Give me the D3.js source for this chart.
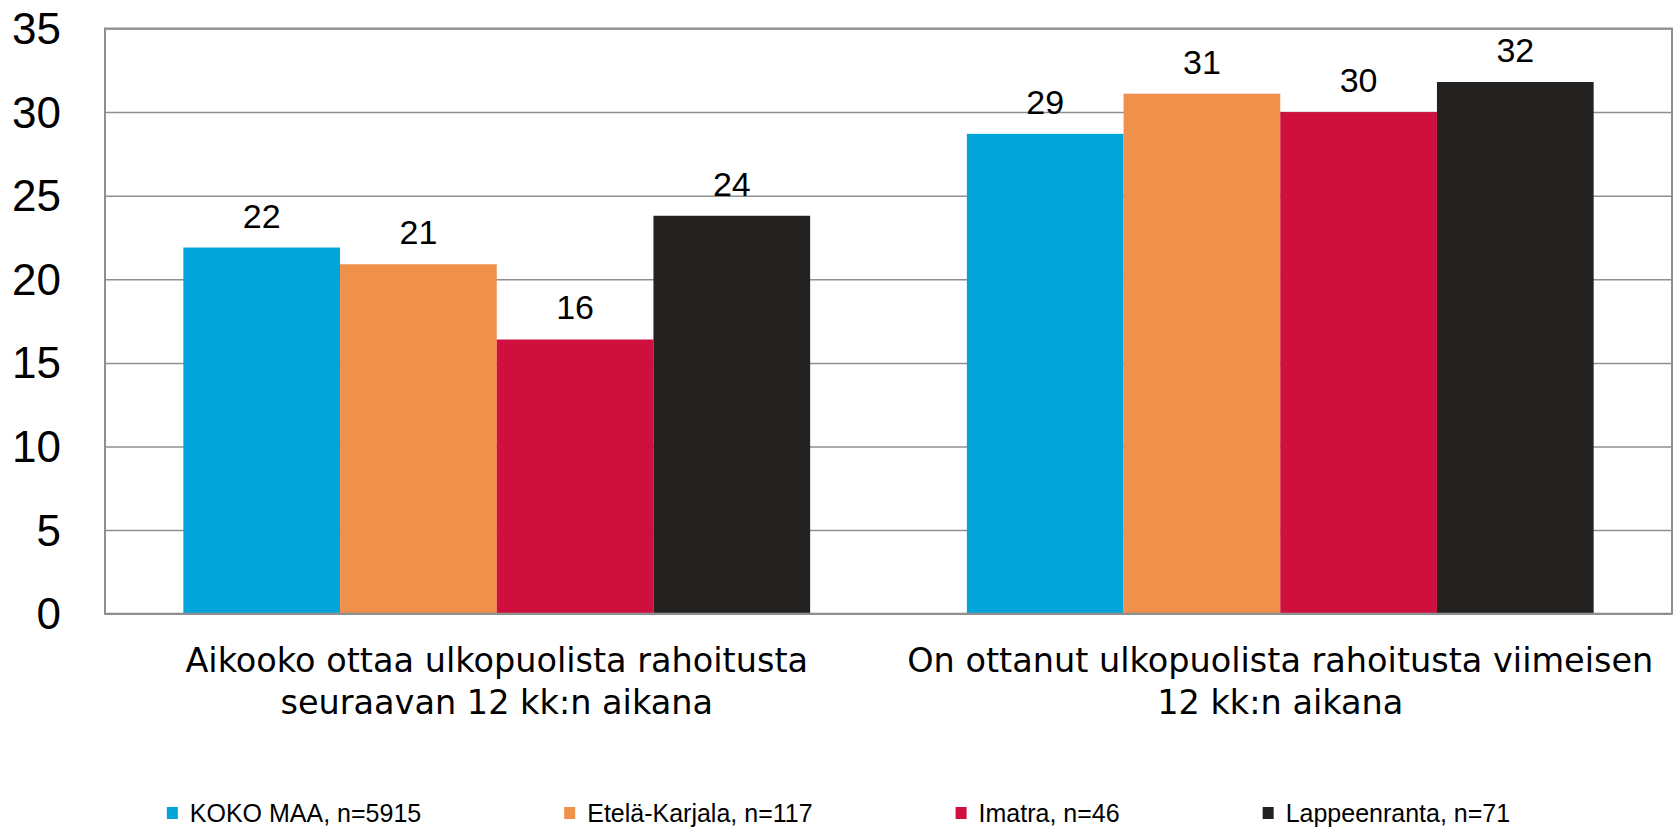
<!DOCTYPE html>
<html>
<head>
<meta charset="utf-8">
<script src="https://cdn.jsdelivr.net/npm/d3@7"></script>
<style>
  body { margin: 0; background: #fff; }
  svg { display: block; }
</style>
</head>
<body>
<div id="chart"></div>
<script>
// categories (x groups) and their wrapped label lines
const categories = ['Aikooko', 'On ottanut'];
const categoryLines = [
    ['Aikooko ottaa ulkopuolista rahoitusta', 'seuraavan 12 kk:n aikana'],
    ['On ottanut ulkopuolista rahoitusta viimeisen', '12 kk:n aikana']
];

// series
const seriesNames = ['KOKO MAA, n=5915', 'Etelä-Karjala, n=117', 'Imatra, n=46', 'Lappeenranta, n=71'];
const kokoMaa = [21.9, 28.7];
const etelaKarjala = [20.9, 31.1];
const imatra = [16.4, 30.0];
const lappeenranta = [23.8, 31.8];
const seriesValues = [kokoMaa, etelaKarjala, imatra, lappeenranta];
const seriesColors = ['#02a5da', '#f0914b', '#cf103e', '#232221'];

// y ticks
const yTicks = [0, 5, 10, 15, 20, 25, 30, 35];

const config = {
    width: 1677,
    height: 829,
    margin: { top: 28.5, right: 5, bottom: 215.3, left: 105 },
    gridColor: '#8f8f8f'
};

const boundedWidth = config.width - config.margin.left - config.margin.right;
const boundedHeight = config.height - config.margin.top - config.margin.bottom;

// scales
const x0 = d3.scaleBand()
    .domain(categories)
    .range([0, boundedWidth])
    .paddingInner(0.2)
    .paddingOuter(0.1);
const x1 = d3.scaleBand()
    .domain(seriesNames)
    .range([0, x0.bandwidth()]);
const yScale = d3.scaleLinear()
    .domain([0, 35])
    .range([boundedHeight, 0]);
const colorScale = d3.scaleOrdinal()
    .domain(seriesNames)
    .range(seriesColors);

const svg = d3.select('#chart')
    .append('svg')
    .attr('width', config.width)
    .attr('height', config.height);

const viz = svg.append('g')
    .attr('transform', `translate(${config.margin.left},${config.margin.top})`);

// y axis with gridlines
const yAxis = d3.axisLeft(yScale)
    .tickValues(yTicks)
    .tickSize(-boundedWidth)
    .tickPadding(44)
    .tickFormat(d3.format('d'));

const yAxisG = viz.append('g')
    .attr('class', 'axis y-axis')
    .call(yAxis);
yAxisG.select('.domain').remove();
yAxisG.selectAll('.tick line')
    .attr('stroke', config.gridColor)
    .attr('stroke-width', 1.5);
yAxisG.selectAll('.tick text')
    .attr('fill', '#000')
    .attr('dy', '0.34em')
    .style('font-family', '"Liberation Sans", Arial, sans-serif')
    .style('font-size', '44px');

// flatten rows for bars
const rows = [];
categories.forEach((c, ci) => {
    seriesNames.forEach((s, si) => {
        rows.push({ category: c, series: s, value: seriesValues[si][ci] });
    });
});

const groups = viz.append('g').attr('class', 'bars');
groups.selectAll('rect')
    .data(rows)
    .join('rect')
    .attr('x', d => x0(d.category) + x1(d.series))
    .attr('y', d => yScale(d.value))
    .attr('width', x1.bandwidth())
    .attr('height', d => boundedHeight - yScale(d.value))
    .attr('fill', d => colorScale(d.series));

// plot border
viz.append('rect')
    .attr('x', 0)
    .attr('y', 0)
    .attr('width', boundedWidth)
    .attr('height', boundedHeight)
    .attr('fill', 'none')
    .attr('stroke', config.gridColor)
    .attr('stroke-width', 2);

// value labels
viz.append('g').selectAll('text')
    .data(rows)
    .join('text')
    .attr('x', d => x0(d.category) + x1(d.series) + x1.bandwidth() / 2)
    .attr('y', d => yScale(d.value) - 20)
    .attr('text-anchor', 'middle')
    .attr('fill', '#000')
    .style('font-family', '"Liberation Sans", Arial, sans-serif')
    .style('font-size', '34px')
    .text(d => Math.round(d.value));

// category labels
const catG = viz.append('g').selectAll('text')
    .data(categories)
    .join('text')
    .attr('text-anchor', 'middle')
    .attr('fill', '#000')
    .style('font-family', '"DejaVu Sans", sans-serif')
    .style('font-size', '33.5px');
catG.selectAll('tspan')
    .data((d, i) => categoryLines[i].map(line => ({ line, c: d })))
    .join('tspan')
    .attr('x', d => x0(d.c) + x0.bandwidth() / 2)
    .attr('y', (d, i) => boundedHeight + 58 + i * 42)
    .text(d => d.line);

// legend, laid out by measured text widths and centered
const legend = svg.append('g').attr('class', 'legend');
const items = legend.selectAll('g')
    .data(seriesNames)
    .join('g');
items.append('rect')
    .attr('width', 11)
    .attr('height', 12)
    .attr('y', -6)
    .attr('fill', d => colorScale(d));
items.append('text')
    .attr('x', 23)
    .attr('y', 9)
    .attr('fill', '#000')
    .style('font-family', '"Liberation Sans", Arial, sans-serif')
    .style('font-size', '25px')
    .text(d => d);

let xPos = 0;
const offsets = [];
items.each(function () {
    offsets.push(xPos);
    const tw = d3.select(this).select('text').node().getComputedTextLength();
    xPos += 23 + tw + 143;
});
const legendWidth = xPos - 143;
const legendStart = (config.width - legendWidth) / 2;
items.attr('transform', (d, i) => `translate(${legendStart + offsets[i]},813)`);
</script>
</body>
</html>
